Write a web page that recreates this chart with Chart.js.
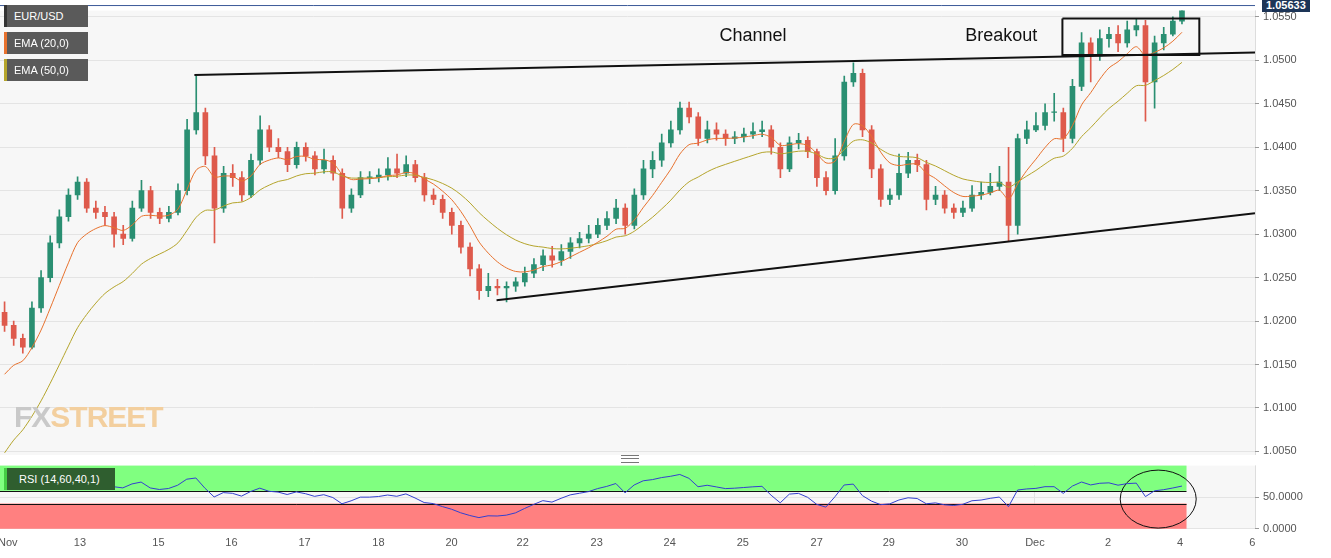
<!DOCTYPE html>
<html>
<head>
<meta charset="utf-8">
<script src="https://cdn.jsdelivr.net/npm/chart.js@4"></script>
<style>
  body { margin: 0; background: #fff; font-family: "Liberation Sans", Arial, sans-serif; }
  #wrap { position: relative; width: 1331px; height: 558px; overflow: hidden; }
  #main { position: absolute; left: 0; top: 0; }
  #rsi { position: absolute; left: -10px; top: 455px; background: #fff; }
  .tag { position: absolute; left: 4px; width: 84px; height: 22px; background: #5a5a5a; color: #fff;
         font-size: 11px; line-height: 22px; padding-left: 10px; box-sizing: border-box; }
  .tag i { position: absolute; left: 0; top: 0; width: 3px; height: 22px; }
  #wm { position: absolute; left: 14px; top: 400px; font: bold 30px "Liberation Sans", Arial; letter-spacing: -1px; }
  #price { position: absolute; left: 1262px; top: -2px; background: #1d3557; color: #fff; font: bold 11px "Liberation Sans", Arial;
           padding: 1px 4px; }
  #handle { position: absolute; left: 621px; top: 455px; width: 18px; height: 8px; border-top: 1px solid #777; border-bottom: 1px solid #777; box-sizing: border-box; }
  #handle:after { content: ""; position: absolute; left: 0; right: 0; top: 2px; border-top: 1px solid #777; }
  #rsitag { position: absolute; left: 4px; top: 468px; width: 111px; height: 22px; background: #2f5e2f; color: #fff;
            font-size: 11px; line-height: 22px; padding-left: 12px; box-sizing: border-box; border-left: 3px solid #44cc44; }
</style>
</head>
<body>
<div id="wrap">
  <canvas id="main" width="1331" height="466"></canvas>
  <canvas id="rsi" width="1341" height="103"></canvas>
  <div class="tag" style="top:5px"><i style="background:#333"></i>EUR/USD</div>
  <div class="tag" style="top:32px"><i style="background:#e8722e"></i>EMA (20,0)</div>
  <div class="tag" style="top:59px"><i style="background:#b5a52c"></i>EMA (50,0)</div>
  <div id="wm"><span style="color:#c9c9c9">FX</span><span style="color:#f3cf9e">STREET</span></div>
  <div id="price">1.05633</div>
  <div id="handle"></div>
  <div id="rsitag">RSI (14,60,40,1)</div>
</div>
<script>
// EUR/USD, 3-hour candles from Nov 11 to Dec 4
const FIRST_OPEN = 1.0210;
const closes = [
  1.0195,1.0180,1.0170,1.0215,1.0250,1.0290,1.0320,1.0345,1.0360,1.0330,
  1.0325,1.0320,1.0300,1.0295,1.0330,1.0350,1.0325,1.0318,1.0325,1.0350,
  1.0420,1.0440,1.0390,1.0330,1.0370,1.0365,1.0345,1.0385,1.0420,1.0400,
  1.0395,1.0380,1.0400,1.0390,1.0375,1.0385,1.0370,1.0330,1.0345,1.0365,
  1.0365,1.0368,1.0375,1.0370,1.0380,1.0365,1.0345,1.0340,1.0325,1.0310,
  1.0285,1.0260,1.0235,1.0240,1.0238,1.0240,1.0245,1.0255,1.0265,1.0275,
  1.0270,1.0280,1.0290,1.0295,1.0300,1.0310,1.0318,1.0330,1.0310,1.0345,
  1.0375,1.0385,1.0405,1.0420,1.0445,1.0435,1.0410,1.0420,1.0415,1.0410,
  1.0412,1.0415,1.0418,1.0420,1.0400,1.0375,1.0405,1.0408,1.0395,1.0365,
  1.0350,1.0390,1.0475,1.0485,1.0420,1.0375,1.0340,1.0345,1.0370,1.0385,
  1.0380,1.0340,1.0345,1.0330,1.0325,1.0330,1.0345,1.0348,1.0355,1.0360,
  1.0310,1.0410,1.0420,1.0425,1.0440,1.0440,1.0410,1.0470,1.0520,1.0505,
  1.0525,1.0530,1.0520,1.0535,1.0540,1.0475,1.0520,1.0530,1.0545,1.0563
];
const highs = [
  1.0222,1.0200,1.0185,1.0222,1.0258,1.0298,1.0328,1.0352,1.0366,1.0364,
  1.0338,1.0332,1.0325,1.0310,1.0338,1.0362,1.0355,1.0330,1.0332,1.0358,
  1.0432,1.0482,1.0445,1.0400,1.0378,1.0380,1.0372,1.0392,1.0436,1.0425,
  1.0410,1.0400,1.0406,1.0405,1.0395,1.0398,1.0390,1.0375,1.0352,1.0372,
  1.0372,1.0375,1.0388,1.0392,1.0390,1.0385,1.0370,1.0352,1.0345,1.0330,
  1.0315,1.0290,1.0265,1.0255,1.0248,1.0245,1.0250,1.0262,1.0272,1.0282,
  1.0286,1.0288,1.0296,1.0302,1.0310,1.0318,1.0326,1.0340,1.0335,1.0352,
  1.0385,1.0395,1.0415,1.0430,1.0452,1.0452,1.0440,1.0430,1.0428,1.0420,
  1.0418,1.0422,1.0428,1.0430,1.0425,1.0405,1.0412,1.0416,1.0412,1.0398,
  1.0372,1.0410,1.0482,1.0497,1.0490,1.0425,1.0380,1.0352,1.0392,1.0394,
  1.0392,1.0385,1.0355,1.0350,1.0335,1.0338,1.0356,1.0360,1.0370,1.0378,
  1.0400,1.0415,1.0430,1.0440,1.0450,1.0462,1.0445,1.0478,1.0532,1.0526,
  1.0535,1.0538,1.0540,1.0545,1.0548,1.0546,1.0528,1.0538,1.0550,1.0566
];
const lows = [
  1.0188,1.0172,1.0163,1.0168,1.0210,1.0245,1.0284,1.0315,1.0340,1.0325,
  1.0318,1.0310,1.0285,1.0288,1.0292,1.0326,1.0318,1.0312,1.0314,1.0322,
  1.0345,1.0415,1.0380,1.0290,1.0325,1.0355,1.0338,1.0342,1.0380,1.0395,
  1.0388,1.0372,1.0376,1.0384,1.0368,1.0370,1.0362,1.0318,1.0325,1.0342,
  1.0358,1.0360,1.0362,1.0365,1.0366,1.0360,1.0338,1.0334,1.0318,1.0300,
  1.0278,1.0252,1.0225,1.0228,1.0230,1.0222,1.0234,1.0240,1.0250,1.0258,
  1.0262,1.0264,1.0272,1.0284,1.0290,1.0296,1.0305,1.0312,1.0300,1.0306,
  1.0340,1.0365,1.0378,1.0400,1.0415,1.0428,1.0402,1.0405,1.0408,1.0402,
  1.0404,1.0406,1.0410,1.0412,1.0392,1.0365,1.0372,1.0398,1.0388,1.0355,
  1.0345,1.0346,1.0385,1.0470,1.0412,1.0365,1.0332,1.0334,1.0340,1.0365,
  1.0372,1.0328,1.0334,1.0324,1.0318,1.0320,1.0326,1.0340,1.0345,1.0350,
  1.0292,1.0300,1.0404,1.0418,1.0420,1.0430,1.0395,1.0405,1.0465,1.0475,
  1.0500,1.0515,1.0510,1.0515,1.0528,1.0430,1.0445,1.0512,1.0528,1.0542
];
// EMA values just before the first candle (read at the left edge)
const EMA20_START = 1.0120;
const EMA50_START = 1.0030;

// trendlines & box: [candle index, price]
const upperLine = [[21.3, 1.0483], [137.5, 1.0509]];
const lowerLine = [[54.4, 1.0224], [137.5, 1.0324]];
const breakoutBox = [[116.4, 1.0548], [131.4, 1.0548], [131.4, 1.0506], [116.4, 1.0506], [116.4, 1.0548]];
const notes = [{ text: 'Channel', x: 82.5, y: 1.0528 }, { text: 'Breakout', x: 109.7, y: 1.0528 }];

const tickPos = [0.9, 8.8, 17.4, 25.4, 33.4, 41.5, 49.5, 57.3, 65.4, 73.4, 81.4, 89.5, 97.4, 105.4, 113.4, 121.4, 129.3, 137.2];
const tickLabels = ['Nov', '13', '15', '16', '17', '18', '20', '22', '23', '24', '25', '27', '29', '30', 'Dec', '2', '4', '6'];
const priceTicks = [1.0050, 1.0100, 1.0150, 1.0200, 1.0250, 1.0300, 1.0350, 1.0400, 1.0450, 1.0500, 1.0550];

const X_MAX = 137.5;
const UP = '#2a8f72', DOWN = '#de5a4c';

const opens = closes.map((c, i) => i === 0 ? FIRST_OPEN : closes[i - 1]);
const colors = closes.map((c, i) => c >= opens[i] ? UP : DOWN);

function ema(vals, period, start) {
  const k = 2 / (period + 1);
  let e = start;
  return vals.map(v => (e = v * k + e * (1 - k)));
}
function rsi(vals, period) {
  const out = [];
  let ag = 0, al = 0;
  for (let i = 1; i < vals.length; i++) {
    const d = vals[i] - vals[i - 1];
    const g = Math.max(d, 0), l = Math.max(-d, 0);
    if (i <= period) { ag += g / period; al += l / period; }
    else { ag = (ag * (period - 1) + g) / period; al = (al * (period - 1) + l) / period; }
    if (i >= period) out.push({ x: i + 0.5, y: al === 0 ? 100 : 100 - 100 / (1 + ag / al) });
  }
  return out;
}

const ema20 = ema(closes, 7, EMA20_START);
const ema50 = ema(closes, 17, EMA50_START);

const xScale = (display) => ({
  type: 'linear', min: 0, max: X_MAX, display, offset: false,
  afterBuildTicks: ax => { ax.ticks = tickPos.map(v => ({ value: v })); },
  grid: { display: true, drawTicks: false, offset: false, color: c => (c.tick && c.tick.value === 113.4 ? '#e2e2e2' : 'transparent') },
  border: { display: false },
  ticks: { color: '#555', font: { size: 11, family: 'Liberation Sans' }, maxRotation: 0, padding: 8,
           callback: (v, i) => tickLabels[i] },
});
const fitY = ax => { ax.width = 76; };

const plotBg = {
  id: 'plotBg',
  beforeDraw(chart) {
    const { ctx, chartArea: a } = chart;
    ctx.save();
    ctx.fillStyle = '#f7f7f7';
    ctx.fillRect(a.left, a.top, a.right - a.left, a.bottom - a.top);
    ctx.strokeStyle = '#ddd';
    ctx.strokeRect(a.right + 0.5, a.top, 0, a.bottom - a.top);
    ctx.restore();
  },
};

const seg = (pts) => pts.map(p => ({ x: p[0], y: p[1] }));

new Chart(document.getElementById('main'), {
  data: {
    datasets: [
      { type: 'bar', data: closes.map((c, i) => ({ x: i + 0.5, y: [lows[i], highs[i]] })),
        backgroundColor: colors, barThickness: 1, grouped: false, order: 3 },
      { type: 'bar', data: closes.map((c, i) => ({ x: i + 0.5, y: [opens[i], c === opens[i] ? c + 0.00008 : c] })),
        backgroundColor: colors, barThickness: 5, grouped: false, order: 2 },
      { type: 'line', data: ema20.map((v, i) => ({ x: i + 0.5, y: v })), borderColor: '#e8722e', borderWidth: 1, pointRadius: 0, tension: 0.3, order: 1 },
      { type: 'line', data: ema50.map((v, i) => ({ x: i + 0.5, y: v })), borderColor: '#b5a52c', borderWidth: 1, pointRadius: 0, tension: 0.3, order: 1 },
      { type: 'line', data: seg(upperLine), borderColor: '#111', borderWidth: 2, pointRadius: 0, order: 0 },
      { type: 'line', data: seg(lowerLine), borderColor: '#111', borderWidth: 2, pointRadius: 0, order: 0 },
      { type: 'line', data: seg(breakoutBox), borderColor: '#111', borderWidth: 2, pointRadius: 0, order: 0 },
    ],
  },
  options: {
    responsive: false, animation: false,
    layout: { padding: { top: -10, bottom: -11, left: 0, right: 0 } },
    plugins: { legend: { display: false }, tooltip: { enabled: false } },
    scales: {
      x: xScale(false),
      y: { position: 'right', min: 1.00454, max: 1.05572, afterFit: fitY,
           afterBuildTicks: ax => { ax.ticks = priceTicks.map(v => ({ value: v })); },
           grid: { color: '#e4e4e4', drawTicks: true, tickLength: 4, tickColor: '#999' },
           border: { display: false },
           ticks: { color: '#555', font: { size: 11, family: 'Liberation Sans' }, padding: 4, callback: v => v.toFixed(4) } },
    },
  },
  plugins: [plotBg, {
    id: 'notes',
    afterDatasetsDraw(chart) {
      const { ctx, chartArea: a, scales: s } = chart;
      ctx.save();
      // last price line
      const yl = s.y.getPixelForValue(closes[closes.length - 1]);
      ctx.strokeStyle = '#3b5998'; ctx.lineWidth = 1;
      ctx.beginPath(); ctx.moveTo(a.left, yl); ctx.lineTo(a.right, yl); ctx.stroke();
      ctx.fillStyle = '#111';
      ctx.font = '18px "Liberation Sans", Arial';
      ctx.textAlign = 'center'; ctx.textBaseline = 'middle';
      for (const n of notes) ctx.fillText(n.text, s.x.getPixelForValue(n.x), s.y.getPixelForValue(n.y));
      ctx.restore();
    },
  }],
});

// RSI panel
const RSI_BANDS = [{ from: 60, to: 100, color: '#80ff80' }, { from: 0, to: 40, color: '#ff8080' }];
const rsiData = rsi(closes, 9);
new Chart(document.getElementById('rsi'), {
  data: {
    datasets: [{ type: 'line', data: rsiData, borderColor: '#3340d0', borderWidth: 1, pointRadius: 0 }],
  },
  options: {
    responsive: false, animation: false,
    layout: { padding: { top: 10 } },
    plugins: { legend: { display: false }, tooltip: { enabled: false } },
    scales: {
      x: xScale(true),
      y: { position: 'right', min: 0, max: 100, afterFit: fitY,
           afterBuildTicks: ax => { ax.ticks = [{ value: 0 }, { value: 50 }]; },
           grid: { color: '#e4e4e4', tickLength: 4, tickColor: '#999' }, border: { display: false },
           ticks: { color: '#555', font: { size: 11, family: 'Liberation Sans' }, padding: 4, callback: v => v.toFixed(4) } },
    },
  },
  plugins: [plotBg, {
    id: 'bands',
    beforeDatasetsDraw(chart) {
      const { ctx, scales: s } = chart;
      const x0 = s.x.getPixelForValue(0), x1 = s.x.getPixelForValue(closes.length);
      ctx.save();
      for (const b of RSI_BANDS) {
        const yt = s.y.getPixelForValue(b.to), yb = s.y.getPixelForValue(b.from);
        ctx.fillStyle = b.color;
        ctx.fillRect(x0, yt, x1 - x0, yb - yt);
      }
      ctx.strokeStyle = '#111'; ctx.lineWidth = 1;
      for (const v of [60, 40]) {
        const y = Math.round(s.y.getPixelForValue(v)) + 0.5;
        ctx.beginPath(); ctx.moveTo(x0, y); ctx.lineTo(x1, y); ctx.stroke();
      }
      // highlight ellipse around the latest dip
      ctx.beginPath();
      ctx.ellipse(s.x.getPixelForValue(126.9), s.y.getPixelForValue(47), 38, 29, 0, 0, 2 * Math.PI);
      ctx.stroke();
      ctx.restore();
    },
  }],
});
</script>
</body>
</html>
